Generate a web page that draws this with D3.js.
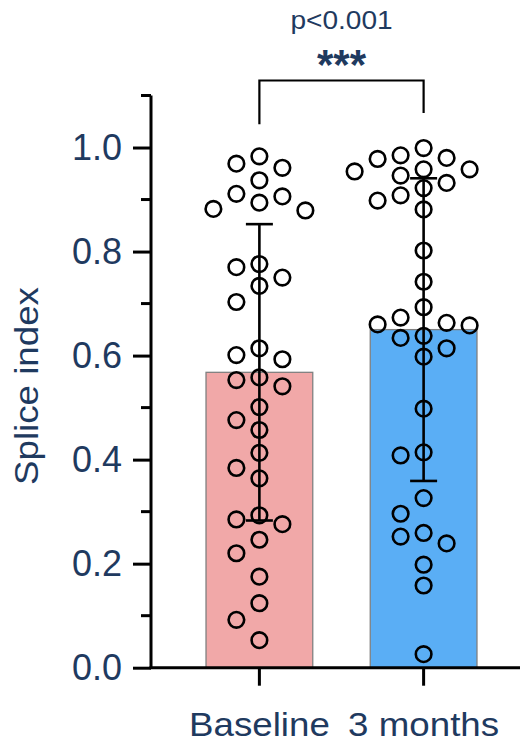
<!DOCTYPE html>
<html>
<head>
<meta charset="utf-8">
<script src="https://cdn.jsdelivr.net/npm/d3@7"></script>
<style>
  html, body { margin: 0; padding: 0; background: #ffffff; }
  svg { display: block; }
  text { font-family: "Liberation Sans", Arial, Helvetica, sans-serif; }
</style>
</head>
<body>
<svg id="chart" width="525" height="744"></svg>
<script>
// Group labels and per-subject splice index values
const categories = ["Baseline", "3 months"];
const baselineValues = [
  0.983, 0.969, 0.961, 0.937, 0.911, 0.906, 0.894, 0.882, 0.879,
  0.776, 0.770, 0.750, 0.734, 0.703,
  0.614, 0.601, 0.593, 0.558, 0.553, 0.541, 0.501,
  0.476, 0.457, 0.413, 0.384, 0.364,
  0.293, 0.285, 0.276, 0.246, 0.220,
  0.175, 0.124, 0.092, 0.053
];
const threeMonthValues = [
  0.999, 0.985, 0.980, 0.978, 0.958, 0.958, 0.954, 0.946, 0.932, 0.922, 0.908, 0.898, 0.881,
  0.802, 0.742, 0.693, 0.673, 0.663, 0.660, 0.658, 0.638, 0.634, 0.614, 0.598,
  0.498, 0.414, 0.408, 0.326, 0.296, 0.259, 0.252, 0.239, 0.198, 0.158, 0.026
];
const yMajorTicks = [0, 0.2, 0.4, 0.6, 0.8, 1.0];
const yMinorTicks = [0.1, 0.3, 0.5, 0.7, 0.9, 1.1];
const yLabel = "Splice index";
const pLabel = "p<0.001";
const starLabel = "***";

const groups = categories.map((name, i) => ({
  name,
  values: i === 0 ? baselineValues : threeMonthValues
}));

const textColor = "#1F3A5F";
const barFills = ["#F1A8A8", "#5AAEF5"];

const svg = d3.select("#chart");

const y = d3.scaleLinear().domain([0, 1.1]).range([667.7, 95.5]);
const x = d3.scaleBand()
  .domain(categories)
  .range([151, 532])
  .paddingInner(0.35)
  .paddingOuter(0.335);

// Bars: group means
groups.forEach(g => {
  g.mean = d3.mean(g.values);
  g.sd = d3.deviation(g.values);
  g.cx = x(g.name) + x.bandwidth() / 2;
});

svg.append("g").selectAll("rect")
  .data(groups)
  .join("rect")
  .attr("x", d => x(d.name))
  .attr("width", x.bandwidth())
  .attr("y", d => y(d.mean))
  .attr("height", d => y(0) - y(d.mean))
  .attr("fill", (d, i) => barFills[i])
  .attr("stroke", "#808080")
  .attr("stroke-width", 1.3);

// Error bars: mean ± SD
const eb = svg.append("g").attr("stroke", "#000").attr("stroke-width", 2.6).attr("fill", "none");
groups.forEach(g => {
  const capHalf = 13.5;
  eb.append("line").attr("x1", g.cx).attr("x2", g.cx)
    .attr("y1", y(g.mean + g.sd)).attr("y2", y(g.mean - g.sd));
  [g.mean + g.sd, g.mean - g.sd].forEach(v => {
    eb.append("line").attr("x1", g.cx - capHalf).attr("x2", g.cx + capHalf)
      .attr("y1", y(v)).attr("y2", y(v));
  });
});

// Individual points, spread sideways so circles do not overlap
const r = 7.8;
function swarm(values, cx, step, minDist) {
  const placed = [];
  const order = d3.range(values.length).sort((a, b) => values[b] - values[a]);
  order.forEach(i => {
    const py = y(values[i]);
    let done = false;
    for (let k = 0; k < 30 && !done; k++) {
      const offs = k === 0 ? [0] : [-k * step, k * step];
      for (const off of offs) {
        const px = cx + off;
        if (placed.every(p => Math.hypot(p.x - px, p.y - py) >= minDist)) {
          placed.push({ x: px, y: py, v: values[i] });
          done = true;
          break;
        }
      }
    }
  });
  return placed;
}

groups.forEach(g => {
  const pts = swarm(g.values, g.cx, 23, 18.5);
  svg.append("g").selectAll("circle")
    .data(pts)
    .join("circle")
    .attr("cx", d => d.x)
    .attr("cy", d => d.y)
    .attr("r", r)
    .attr("fill", "none")
    .attr("stroke", "#000")
    .attr("stroke-width", 2.6);
});

// Y axis with major and minor ticks
const yAxisG = svg.append("g").attr("transform", "translate(151,0)");
yAxisG.call(d3.axisLeft(y).tickValues(yMajorTicks).tickFormat(d3.format(".1f"))
  .tickSize(18).tickPadding(11).tickSizeOuter(0));
yAxisG.append("g").selectAll("line")
  .data(yMinorTicks)
  .join("line")
  .attr("x1", -10).attr("x2", 0)
  .attr("y1", d => y(d)).attr("y2", d => y(d));
yAxisG.selectAll("line").attr("stroke", "#000").attr("stroke-width", 3);
yAxisG.select(".domain").attr("stroke", "#000").attr("stroke-width", 3)
  .attr("d", `M0,${y(1.1)}V${y(0)}`);
yAxisG.selectAll(".tick text")
  .attr("fill", textColor)
  .style("font-size", "36px");

// X axis
const xAxisG = svg.append("g").attr("transform", `translate(0,${y(0)})`);
xAxisG.call(d3.axisBottom(x).tickSize(18).tickPadding(26).tickSizeOuter(0));
xAxisG.select(".domain").remove();
xAxisG.append("line").attr("x1", 149.5).attr("x2", 520).attr("y1", 0).attr("y2", 0);
xAxisG.selectAll("line").attr("stroke", "#000").attr("stroke-width", 3);
xAxisG.selectAll(".tick text")
  .attr("fill", textColor)
  .style("font-size", "34px")
  .attr("transform", "scale(1.08,1)");

// Y axis title
svg.append("text")
  .attr("transform", "translate(38,386) rotate(-90) scale(1.08,1)")
  .attr("text-anchor", "middle")
  .attr("fill", textColor)
  .style("font-size", "34px")
  .text(yLabel);

// Significance bracket
const [g0, g1] = groups;
const bracketY = y(1.1) - 15;
svg.append("path")
  .attr("d", `M${g0.cx},${y(d3.max(g0.values)) - 32}V${bracketY}H${g1.cx}V${y(d3.max(g1.values)) - 35}`)
  .attr("fill", "none")
  .attr("stroke", "#000")
  .attr("stroke-width", 2.2);

const midX = (g0.cx + g1.cx) / 2;
svg.append("text")
  .attr("x", midX).attr("y", 79)
  .attr("text-anchor", "middle")
  .attr("fill", textColor)
  .style("font-size", "42px")
  .style("font-weight", "bold")
  .text(starLabel);

svg.append("text")
  .attr("transform", `translate(${midX},28.5) scale(1.08,1)`)
  .attr("text-anchor", "middle")
  .attr("fill", textColor)
  .style("font-size", "26px")
  .text(pLabel);
</script>
</body>
</html>
